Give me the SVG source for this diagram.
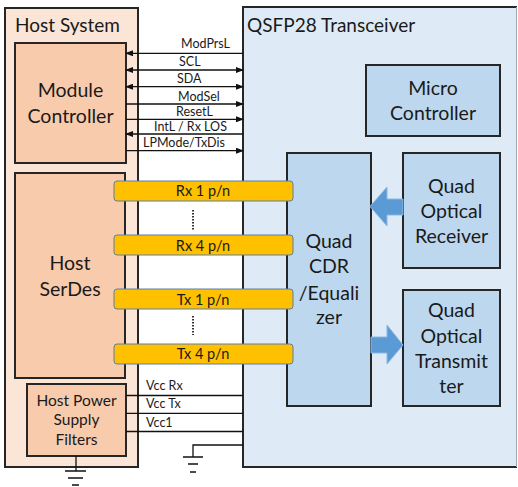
<svg xmlns="http://www.w3.org/2000/svg" width="518" height="487" viewBox="0 0 518 487">
<style>
text{font-family:Lato,"Open Sans","Liberation Sans",sans-serif;fill:#1a1a1a}
.t{font-size:19px}
.b{font-size:19.5px;text-anchor:middle}
.p{font-size:15.5px;text-anchor:middle}
.s{font-size:12.5px}
.y{font-size:14.5px;text-anchor:middle}
.box{stroke:#262626;stroke-width:2}
.host{fill:#fbe5d6}
.hb{fill:#f8cbad}
.xb{fill:#bdd7ee}
.w{stroke:#111;stroke-width:1.3;fill:none}
.bar{fill:#ffc000;stroke:#5a7fa8;stroke-width:1}
.dot{stroke:#333;stroke-width:2;stroke-dasharray:1.6 1.4}
.ba{fill:#5b9bd5;stroke:#8cb8e2;stroke-width:1}
</style>
<defs>
<marker id="ae" markerWidth="8" markerHeight="6" refX="7" refY="3" orient="auto" markerUnits="userSpaceOnUse"><path d="M0,0 L8,3 L0,6 Z" fill="#111"/></marker>
<marker id="as" markerWidth="8" markerHeight="6" refX="1" refY="3" orient="auto" markerUnits="userSpaceOnUse"><path d="M8,0 L0,3 L8,6 Z" fill="#111"/></marker>
</defs>
<rect width="518" height="487" fill="#fff"/>
<g id="host-system">
<rect class="box host" x="5" y="8" width="133" height="459"/>
<text class="t" x="15" y="32">Host System</text>
</g>
<g id="transceiver">
<rect x="243" y="7" width="274" height="460" fill="#deebf7"/>
<path d="M517,7 H243 V467 H517" fill="none" stroke="#262626" stroke-width="2"/>
<path d="M516.5,7 V467" stroke="#9aa8b5" stroke-width="1"/>
<text class="t" x="247" y="32">QSFP28 Transceiver</text>
</g>
<g id="module-controller">
<rect class="box hb" x="15" y="43" width="111" height="120"/>
<text class="b" x="70.5" y="97">Module</text>
<text class="b" x="70.5" y="123">Controller</text>
</g>
<g id="host-serdes">
<rect class="box hb" x="15" y="173" width="110" height="205"/>
<text class="b" x="70" y="270">Host</text>
<text class="b" x="70" y="296">SerDes</text>
</g>
<g id="host-psu">
<rect class="box hb" x="27" y="384" width="99" height="72"/>
<text class="p" x="76.5" y="406">Host Power</text>
<text class="p" x="76.5" y="425">Supply</text>
<text class="p" x="76.5" y="445">Filters</text>
</g>
<g id="micro-controller">
<rect class="box xb" x="366" y="65" width="134" height="71"/>
<text class="b" x="433" y="95">Micro</text>
<text class="b" x="433" y="120">Controller</text>
</g>
<g id="cdr">
<rect class="box xb" x="287" y="153" width="84" height="253"/>
<text class="b" x="329" y="248">Quad</text>
<text class="b" x="329" y="273">CDR</text>
<text class="b" x="329" y="300">/Equali</text>
<text class="b" x="329" y="324">zer</text>
</g>
<g id="optical-receiver">
<rect class="box xb" x="403" y="153" width="97" height="115"/>
<text class="b" x="451.5" y="193">Quad</text>
<text class="b" x="451.5" y="218">Optical</text>
<text class="b" x="451.5" y="243">Receiver</text>
</g>
<g id="optical-transmitter">
<rect class="box xb" x="403" y="290" width="97" height="116"/>
<text class="b" x="451.5" y="317">Quad</text>
<text class="b" x="451.5" y="343">Optical</text>
<text class="b" x="451.5" y="368">Transmit</text>
<text class="b" x="451.5" y="393">ter</text>
</g>
<g id="connectors">
<line class="w" x1="243" y1="53.3" x2="126" y2="53.3" marker-end="url(#ae)"/>
<line class="w" x1="126" y1="70" x2="243" y2="70" marker-start="url(#as)" marker-end="url(#ae)"/>
<line class="w" x1="126" y1="86.7" x2="243" y2="86.7" marker-start="url(#as)" marker-end="url(#ae)"/>
<line class="w" x1="126" y1="104" x2="243" y2="104" marker-end="url(#ae)"/>
<line class="w" x1="126" y1="119.3" x2="243" y2="119.3" marker-end="url(#ae)"/>
<line class="w" x1="243" y1="134" x2="126" y2="134" marker-end="url(#ae)"/>
<line class="w" x1="126" y1="150.7" x2="243" y2="150.7" marker-end="url(#ae)"/>
<text class="s" x="181" y="48">ModPrsL</text>
<text class="s" x="179" y="66">SCL</text>
<text class="s" x="177" y="83">SDA</text>
<text class="s" x="178" y="101">ModSel</text>
<text class="s" x="176" y="116">ResetL</text>
<text class="s" x="154" y="131">IntL / Rx LOS</text>
<text class="s" x="143" y="147">LPMode/TxDis</text>
<line class="w" x1="126" y1="395.5" x2="243" y2="395.5"/>
<line class="w" x1="126" y1="413.3" x2="243" y2="413.3"/>
<line class="w" x1="126" y1="431.5" x2="243" y2="431.5"/>
<text class="s" x="146" y="390">Vcc Rx</text>
<text class="s" x="146" y="408">Vcc Tx</text>
<text class="s" x="146" y="427">Vcc1</text>
<rect class="bar" x="114" y="181" width="179" height="20" rx="3"/>
<text class="y" x="203" y="196">Rx 1 p/n</text>
<line class="dot" x1="193" y1="210" x2="193" y2="230"/>
<rect class="bar" x="114" y="235" width="179" height="20" rx="3"/>
<text class="y" x="203" y="251">Rx 4 p/n</text>
<rect class="bar" x="114" y="289" width="179" height="20" rx="3"/>
<text class="y" x="203" y="305">Tx 1 p/n</text>
<line class="dot" x1="193" y1="316" x2="193" y2="335"/>
<rect class="bar" x="114" y="344" width="179" height="20" rx="3"/>
<text class="y" x="203" y="359">Tx 4 p/n</text>
<polygon class="ba" points="403,199 387,199 387,187 370,206.5 387,226 387,215 403,215"/>
<polygon class="ba" points="371,337 387,337 387,325 403,345 387,364 387,353 371,353"/>
<path class="w" d="M76,456 V471 M65,471 H86 M68,478 H83 M72,485 H79"/>
<path class="w" d="M243,445 H193 V457 M183,457 H203 M188,464 H198 M190,472 H196"/>
</g>
</svg>
